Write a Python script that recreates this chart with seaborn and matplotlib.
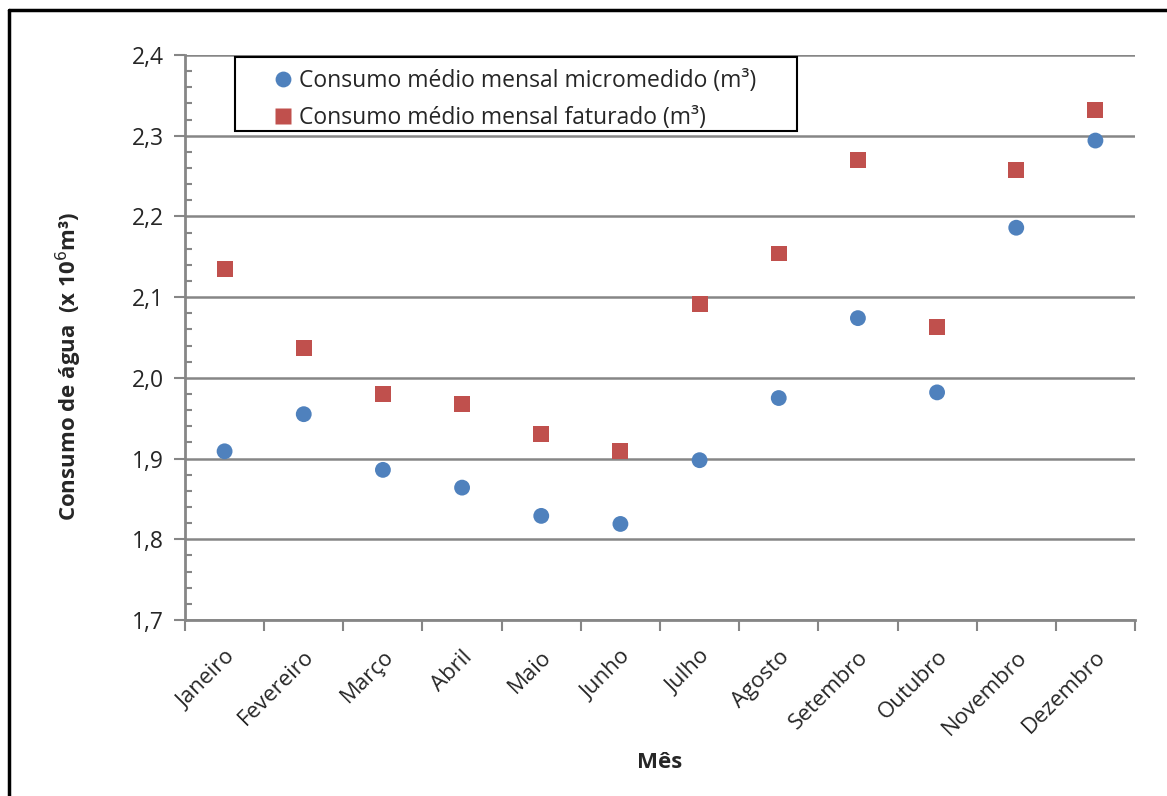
import pandas as pd
import matplotlib.pyplot as plt
import matplotlib.ticker as ticker
from matplotlib.lines import Line2D
from matplotlib.patches import Rectangle
import seaborn as sns

meses = ['Janeiro', 'Fevereiro', 'Março', 'Abril', 'Maio', 'Junho', 'Julho',
         'Agosto', 'Setembro', 'Outubro', 'Novembro', 'Dezembro']
micromedido = [1.909, 1.955, 1.886, 1.864, 1.829, 1.819, 1.898,
               1.975, 2.074, 1.982, 2.186, 2.294]
faturado = [2.135, 2.037, 1.980, 1.968, 1.930, 1.909, 2.092,
            2.154, 2.270, 2.063, 2.258, 2.332]
serie_micro = 'Consumo médio mensal micromedido (m³)'
serie_fat = 'Consumo médio mensal faturado (m³)'

df = pd.DataFrame({
    'mes': meses * 2,
    'valor': micromedido + faturado,
    'serie': [serie_micro] * 12 + [serie_fat] * 12,
})

sns.set_style('white')
plt.rcParams['font.family'] = ['Open Sans', 'DejaVu Sans']
cinza = '#868686'

fig = plt.figure(figsize=(11.67, 7.96), dpi=100)
ax = fig.add_axes([185/1167, 1 - 620/796, 950/1167, 565/796])

sns.scatterplot(data=df, x='mes', y='valor', hue='serie', style='serie',
                palette=['#4F81BD', '#C0504D'], markers=['o', 's'],
                s=130, edgecolor='none', ax=ax, zorder=3)

ax.set_xlim(-0.5, 11.5)
ax.set_ylim(1.7, 2.4)

# y: majors a cada 0,1 com virgula decimal, minors para dentro
ax.yaxis.set_major_locator(ticker.MultipleLocator(0.1))
ax.yaxis.set_minor_locator(ticker.MultipleLocator(0.02))
ax.yaxis.set_major_formatter(ticker.FuncFormatter(lambda v, p: f'{v:.1f}'.replace('.', ',')))
ax.tick_params(axis='y', which='major', direction='out', length=8, width=1.5,
               color=cinza, labelsize=16.5, pad=7, left=True)
ax.tick_params(axis='y', which='minor', direction='in', length=5, width=1.5,
               color=cinza, left=True)
ax.grid(axis='y', which='major', color=cinza, linewidth=1.8)
ax.set_axisbelow(True)

# x: marcas nas divisas, rotulos no centro
ax.set_xticks([i - 0.5 for i in range(13)])
ax.set_xticklabels([''] * 13)
ax.set_xticks(range(12), minor=True)
ax.set_xticklabels(meses, minor=True, rotation=45, ha='right',
                   rotation_mode='anchor', fontsize=16)
ax.tick_params(axis='x', which='major', direction='out', length=8, width=1.5,
               color=cinza, bottom=True)
ax.tick_params(axis='x', which='minor', length=0, pad=19)

for lado in ['top', 'right']:
    ax.spines[lado].set_visible(False)
for lado in ['left', 'bottom']:
    ax.spines[lado].set_color(cinza)
    ax.spines[lado].set_linewidth(2)

ax.set_xlabel('Mês', fontsize=16, fontweight='bold', labelpad=9)
ax.set_ylabel('Consumo de água  (x 10$^6$m³)', fontsize=16, fontweight='bold')
ax.yaxis.set_label_coords(-0.106, 0.45)

# legenda sem moldura + caixa desenhada a parte (mais folga nas laterais)
leg = ax.legend(loc='upper left', bbox_to_anchor=(0.06, 0.975), fontsize=16.5,
                frameon=False, borderpad=0, borderaxespad=0,
                handlelength=3.6, handletextpad=-1.1, labelspacing=0.55)
ax.add_patch(Rectangle((50/950, 489/565), 562/950, 74/565, transform=ax.transAxes,
                       fill=False, edgecolor='black', linewidth=1.5, clip_on=False, zorder=4))

# moldura do grafico
fig.add_artist(Line2D([9/1167, 9/1167], [0, 1 - 10/796], color='black', linewidth=2.5))
fig.add_artist(Line2D([9/1167, 1], [1 - 10/796, 1 - 10/796], color='black', linewidth=2.5))

fig.savefig('out.png', dpi=100)
